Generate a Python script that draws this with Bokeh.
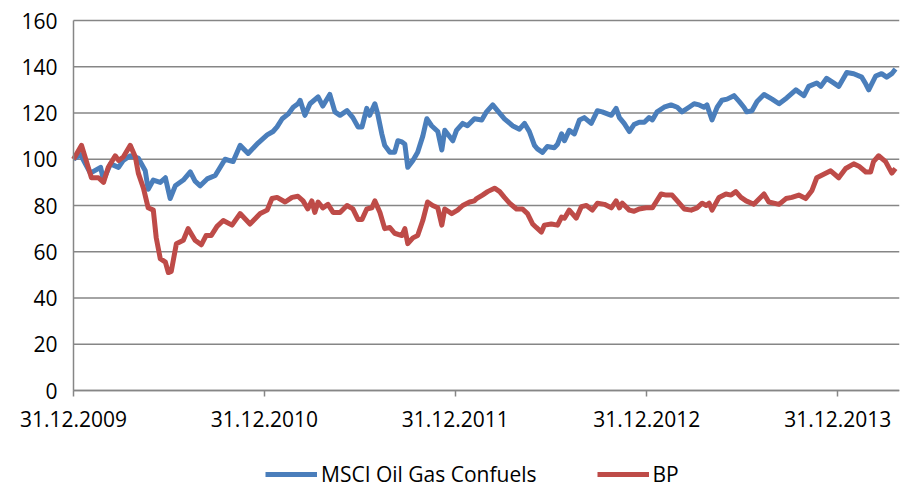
import numpy as np
import pandas as pd
from bokeh.plotting import figure
from bokeh.models import (FixedTicker, DatetimeTickFormatter, Legend, LegendItem,
                          Range1d, ColumnDataSource)
from bokeh.embed import file_html
from bokeh.resources import INLINE

# ---- data (weeks since 31.12.2009, index value) ----
msci_weeks = [0, 1.9, 4.6, 7.4, 8.2, 10.1, 12.3, 13.6, 15.5, 17.7, 19.6, 20.4, 21.8, 23.7, 25.1,
              26.4, 27.8, 30.0, 31.9, 33.2, 34.6, 36.5, 38.7, 41.4, 43.6, 45.5, 47.7, 50.4, 52.9,
              54.5, 55.6, 57.0, 58.6, 60.0, 61.3, 61.9, 63.2, 64.6, 66.8, 68.1, 70.0, 71.4, 72.8,
              74.7, 76.3, 77.7, 78.8, 80.1, 80.9, 82.3, 83.1, 84.2, 85.0, 86.4, 87.7, 88.6, 89.7,
              90.5, 91.3, 92.7, 94.0, 95.4, 96.5, 97.8, 99.5, 100.6, 101.4, 103.6, 104.6, 106.3,
              107.6, 109.5, 111.5, 112.8, 114.5, 115.8, 117.7, 119.9, 121.8, 123.2, 124.5, 125.9,
              126.7, 128.1, 129.4, 131.3, 132.2, 133.3, 134.1, 135.4, 136.8, 138.2, 139.5, 141.4,
              143.1, 144.4, 146.9, 148.2, 149.1, 150.4, 151.8, 153.1, 154.5, 155.9, 157.2, 158.1,
              159.4, 161.3, 163.2, 164.9, 166.2, 168.1, 169.5, 170.9, 172.2, 173.0, 174.4, 175.8,
              177.1, 178.5, 180.4, 181.8, 183.1, 183.9, 185.3, 186.7, 188.6, 190.8, 192.7, 194.8,
              197.3, 199.5, 200.8, 203.0, 204.1, 205.7, 207.6, 209.0, 211.2, 213.1, 215.3, 216.4,
              217.2, 219.1, 220.7, 222.1, 223.5, 224.5]
msci_values = [100, 102, 94, 96.5, 91, 98, 96.5, 99.5, 101.5, 100.5, 95, 87, 91, 90, 92,
               83, 88.5, 91, 94.5, 90.5, 88.5, 91.5, 93, 100, 99, 106, 102.5, 107, 110.5,
               112, 114, 117.5, 119.5, 122.5, 124, 125.5, 119, 124, 127, 123, 128, 120.5, 119,
               121, 118, 114, 114, 122, 119, 124, 119.5, 111, 106, 103, 103, 108, 107.5,
               106.5, 96.5, 99.5, 103, 110, 117.5, 114.5, 112, 104, 112.5, 108, 112.5, 115.5,
               114.5, 117.5, 117, 120.5, 123.5, 121, 117.5, 114.5, 113, 115.5, 112, 106,
               104.5, 103, 105.5, 105, 106.5, 111, 108, 112.5, 111, 117, 118, 115.5,
               121, 120.5, 119, 122, 118, 115.5, 112, 115, 116, 116, 118, 117,
               120.5, 122.5, 123.5, 122.5, 120.5, 122.5, 124, 123.5, 122.5, 123.5, 117, 122.5,
               125.5, 126, 127.5, 125, 122.5, 120.5, 121, 125, 128, 126, 124, 126.5,
               130, 127.5, 131.5, 133, 131.5, 135, 133, 131.5, 137.5, 137, 135.5, 132.5,
               130, 136, 137, 135.5, 137, 139]

bp_weeks = [0, 2.2, 4.9, 6.8, 8.2, 9.5, 11.4, 12.3, 13.6, 15.5, 16.9, 17.7, 19.1, 20.4, 21.8,
            22.6, 23.7, 25.1, 25.9, 26.7, 28.1, 30.0, 31.3, 33.2, 34.9, 36.2, 37.6, 39.2, 40.9,
            43.3, 45.5, 48.2, 51.0, 52.9, 54.2, 55.6, 57.8, 59.7, 61.3, 62.7, 64.0, 65.1, 65.9,
            66.8, 68.1, 69.5, 70.9, 72.8, 74.7, 76.3, 77.7, 78.8, 80.1, 81.5, 82.3, 83.7, 85.0,
            86.4, 87.7, 89.7, 90.5, 91.3, 92.7, 94.0, 95.4, 96.7, 98.1, 99.5, 100.6, 101.4,
            103.3, 104.9, 106.3, 108.2, 109.5, 110.1, 111.7, 113.1, 115.0, 116.4, 117.7, 119.1,
            121.0, 122.6, 124.0, 125.4, 126.4, 127.8, 128.6, 130.5, 132.2, 133.3, 134.1, 135.4,
            137.3, 138.7, 140.1, 141.7, 143.1, 145.0, 146.9, 148.2, 149.1, 149.9, 151.8, 153.1,
            154.5, 156.4, 158.1, 159.1, 160.5, 161.9, 163.5, 164.9, 166.8, 168.7, 170.3, 171.7,
            172.8, 173.6, 174.4, 176.3, 178.2, 179.6, 180.9, 182.3, 183.7, 185.8, 188.6, 189.9,
            192.7, 194.6, 196.2, 198.1, 200.0, 201.7, 203.0, 204.9, 206.8, 209.0, 210.9, 213.1,
            214.5, 216.4, 217.7, 218.5, 219.9, 221.8, 223.5, 224.5]
bp_values = [100, 106, 92, 92, 90, 96.5, 101.5, 99.5, 101, 106, 101, 94, 87.5, 79, 78,
             66, 57, 55.5, 51, 51.5, 63.5, 65, 70, 65, 63, 67, 67, 71, 73.5,
             71.5, 76.5, 72, 76.5, 78, 83, 83.5, 81.5, 83.5, 84, 82, 78.5, 82, 77,
             81.5, 79, 80.5, 77, 77, 80, 78.5, 74, 74, 78.5, 79, 82, 77, 70,
             70.5, 68, 67, 70, 63.5, 66, 67, 73.5, 81.5, 80, 79, 71.5, 78.5,
             76.5, 78, 80, 81.5, 82, 83, 84.5, 86, 87.5, 86, 83.5, 81,
             78.5, 78.5, 76.5, 72, 70.5, 68.5, 71.5, 72, 71.5, 75, 74.5, 78,
             74.5, 79.5, 80, 78, 81, 80.5, 79, 82, 79, 81, 78, 77.5,
             78.5, 79, 79, 81.5, 85, 84.5, 84.5, 82, 78.5, 78, 79, 81,
             80, 81, 78, 83.5, 85, 84.5, 86, 83.5, 82, 80.5, 85, 81.5,
             80.5, 83, 83.5, 84.5, 83, 86.5, 92, 93.5, 95, 92, 96, 98,
             97, 94.5, 94.5, 99, 101.5, 99, 94, 96]

tick_dates = ["2009-12-31", "2010-12-31", "2011-12-31", "2012-12-31", "2013-12-31"]
y_ticks = [0, 20, 40, 60, 80, 100, 120, 140, 160]
series_names = ["MSCI Oil Gas Confuels", "BP"]

start = pd.Timestamp("2009-12-31")
end = start + pd.Timedelta(days=225.6 * 7)
def to_dates(w):
    return start + pd.to_timedelta(np.array(w) * 7.0, unit="D")
def ms(ts):
    return ts.value / 1e6

FONT = "Open Sans"
GRID = "#868686"

# The frame covers the whole figure; the chart body (axes at 31.12.2009 and 0)
# sits inside it so that the labels and legend around it stay visible.
PLOT_W, LEFT = 826.0, 73.0               # px of the chart body / px left of it
PLOT_H, BELOW, ABOVE = 370.0, 98.0, 20.0  # px of the chart body / below / above it
span_days = (end - start) / pd.Timedelta(days=1)
x_lo = start - pd.Timedelta(days=span_days * LEFT / PLOT_W)
y_span = y_ticks[-1] - y_ticks[0]
y_lo = y_ticks[0] - (BELOW / PLOT_H) * y_span
y_hi = y_ticks[-1] + (ABOVE / PLOT_H) * y_span

p = figure(width=909, height=488, x_axis_type="datetime", output_backend="svg",
           toolbar_location=None, min_border_left=0, min_border_right=10,
           min_border_top=0, min_border_bottom=0)
p.x_range = Range1d(x_lo, end)
p.y_range = Range1d(y_lo, y_hi)
p.outline_line_color = None
p.background_fill_color = "white"
p.border_fill_color = "white"

# horizontal grid lines, limited to the chart body
n = len(y_ticks)
p.segment(x0=[ms(start)] * n, y0=y_ticks, x1=[ms(end)] * n, y1=y_ticks,
          line_color=GRID, line_width=1.5)

src_m = ColumnDataSource(dict(x=to_dates(msci_weeks), y=msci_values))
src_b = ColumnDataSource(dict(x=to_dates(bp_weeks), y=bp_values))
r_m = p.line("x", "y", source=src_m, line_color="#4A7EBB", line_width=5, line_join="round")
r_b = p.line("x", "y", source=src_b, line_color="#BE4B48", line_width=5, line_join="round")

# x axis pinned at value 0
p.xaxis.fixed_location = y_ticks[0]
p.xaxis.bounds = (ms(start), ms(end))
p.xaxis.ticker = FixedTicker(ticks=[ms(pd.Timestamp(d)) for d in tick_dates])
p.xaxis.formatter = DatetimeTickFormatter(
    milliseconds="%d.%m.%Y", seconds="%d.%m.%Y", minsec="%d.%m.%Y", minutes="%d.%m.%Y",
    hourmin="%d.%m.%Y", hours="%d.%m.%Y", days="%d.%m.%Y", months="%d.%m.%Y", years="%d.%m.%Y")
p.xaxis.minor_tick_line_color = None
p.xaxis.major_tick_out = 6
p.xaxis.major_tick_in = 0
p.xaxis.major_tick_line_color = GRID
p.xaxis.major_tick_line_width = 1.5
p.xaxis.axis_line_color = GRID
p.xaxis.axis_line_width = 1.5
p.xaxis.major_label_standoff = 14

# y axis pinned at the first date
p.yaxis.fixed_location = ms(start)
p.yaxis.bounds = (y_ticks[0], y_ticks[-1])
p.yaxis.ticker = FixedTicker(ticks=y_ticks)
p.yaxis.minor_tick_line_color = None
p.yaxis.major_tick_line_color = None
p.yaxis.major_tick_out = 0
p.yaxis.major_tick_in = 0
p.yaxis.axis_line_color = GRID
p.yaxis.axis_line_width = 1.5
p.yaxis.major_label_standoff = 16

for ax in (p.xaxis, p.yaxis):
    ax.major_label_text_font = FONT
    ax.major_label_text_font_size = "21px"
    ax.major_label_text_color = "black"

p.xgrid.grid_line_color = None
p.ygrid.grid_line_color = None

legend = Legend(items=[LegendItem(label=series_names[0], renderers=[r_m]),
                       LegendItem(label=series_names[1], renderers=[r_b])],
                location=(265, 0), orientation="horizontal",
                glyph_width=52, glyph_height=22, label_standoff=4, spacing=60,
                padding=0, margin=0, border_line_color=None, background_fill_alpha=0,
                label_text_font=FONT, label_text_font_size="21px", label_text_color="black")
p.add_layout(legend, "center")

open("out.html", "w").write(file_html(p, INLINE))
